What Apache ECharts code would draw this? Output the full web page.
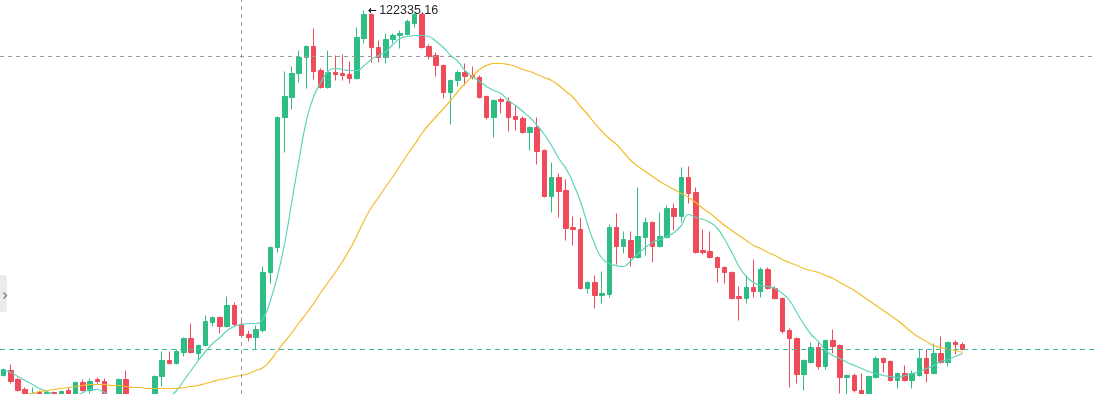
<!DOCTYPE html>
<html>
<head>
<meta charset="utf-8">
<script src="https://cdn.jsdelivr.net/npm/echarts@6/dist/echarts.min.js"></script>
<style>
html,body{margin:0;padding:0;background:#fff;}
#chart{width:1098px;height:394px;}
</style>
</head>
<body>
<div id="chart"></div>
<script>
var opens = [118685,118735,118645,118545,118445,118515,118475,118515,118475,118535,118475,118615,118535,118645,118625,118465,118405,118645,118385,118355,118335,118375,118675,118835,118805,118915,119055,118905,118985,119215,119265,119175,119385,119195,119095,119065,119135,119715,119965,121265,121465,121705,121865,121975,121735,121565,121715,121705,121695,121655,122055,122295,121965,121865,122045,122085,122095,122205,122295,121975,121885,121785,121515,121635,121715,121685,121665,121475,121265,121445,121425,121275,121255,121115,121165,120935,120475,120665,120535,120165,120145,119555,119615,119485,119495,120165,119975,120035,119865,120065,120215,119975,120065,120355,120275,120665,120515,119935,119925,119865,119765,119715,119475,119455,119565,119525,119745,119555,119455,119135,119055,118695,118815,118965,118775,119035,118985,118665,118685,118535,118455,118665,118855,118825,118635,118705,118635,118685,118855,118705,118905,118815,119015,118995];
var closes = [118745,118625,118535,118465,118505,118485,118515,118475,118525,118485,118615,118535,118625,118625,118475,118405,118645,118385,118355,118335,118375,118675,118835,118805,118925,119055,118915,118985,119225,119265,119175,119385,119195,119085,119065,119145,119715,119965,121265,121475,121705,121865,121975,121725,121565,121715,121695,121685,121655,122065,122295,121965,121865,122045,122085,122105,122225,122295,121965,121875,121785,121515,121635,121715,121675,121665,121465,121265,121435,121425,121265,121245,121115,121165,120925,120475,120665,120525,120155,120145,119555,119615,119485,119505,120165,119975,120045,119865,120075,120215,119975,120075,120355,120275,120665,120505,119915,119915,119865,119765,119715,119455,119455,119565,119525,119745,119555,119455,119125,119055,118695,118835,118965,118775,119035,118975,118665,118685,118535,118475,118675,118855,118815,118635,118705,118635,118705,118855,118705,118905,118815,119015,118995,118945];
var lows = [118675,118605,118525,118435,118425,118455,118455,118455,118455,118465,118465,118525,118505,118605,118455,118375,118395,118365,118325,118295,118315,118365,118575,118795,118795,118875,118905,118835,118975,119175,119105,119165,119175,119065,119025,118945,119115,119605,119915,120915,121345,121615,121555,121645,121555,121555,121635,121635,121605,121645,122005,121815,121815,121805,122005,121955,122085,122165,121955,121845,121675,121455,121195,121575,121585,121645,121455,121245,121065,121305,121125,121135,121105,120935,120795,120465,120315,120265,120035,119985,119545,119505,119355,119405,119465,119795,119905,119775,119855,119885,119815,119965,120055,120135,120215,120405,119905,119895,119855,119615,119605,119445,119235,119405,119465,119465,119545,119445,119105,118565,118605,118535,118805,118745,118745,118905,118505,118475,118515,118455,118435,118655,118715,118625,118555,118625,118555,118675,118615,118695,118805,118775,118895,118935];
var highs = [118755,118795,118665,118565,118565,118535,118525,118525,118535,118565,118625,118645,118655,118665,118655,118485,118655,118735,118415,118395,118405,118685,118925,118925,118945,119065,119205,118995,119285,119275,119275,119475,119415,119265,119135,119185,119775,119975,121275,121725,121775,121935,121985,122155,121755,121935,121885,121895,121825,122165,122335.16,122305,122035,122105,122105,122135,122245,122315,122305,121995,121915,121795,121645,121735,121805,121775,121685,121485,121445,121465,121465,121385,121275,121175,121265,120945,120815,120705,120645,120275,120265,119625,119685,119725,120195,120305,120125,120125,120565,120265,120225,120315,120385,120405,120765,120775,120565,120145,120125,119875,119775,119725,119575,119685,119845,119765,119765,119575,119465,119155,119065,118845,119015,119015,119045,119145,118995,118695,118705,118705,118685,118875,118865,118835,118715,118785,118735,118955,118945,119005,119075,119025,119035,119015];
var maShort = [118745,118715,118675,118635,118595,118555,118525,118495,118465,118455,118475,118515,118545,118545,118515,118475,118445,118435,118415,118395,118385,118395,118435,118475,118535,118635,118735,118835,118925,119005,119065,119135,119175,119195,119205,119205,119255,119435,119685,120015,120435,120855,121235,121475,121615,121725,121755,121745,121735,121735,121785,121845,121885,121925,121995,122055,122075,122085,122085,122075,122025,121965,121885,121825,121735,121675,121625,121575,121535,121505,121435,121385,121325,121265,121185,121095,120985,120855,120755,120605,120425,120195,119995,119855,119805,119785,119775,119835,119905,119965,120015,120045,120075,120115,120185,120295,120265,120245,120215,120155,120045,119915,119775,119675,119615,119585,119575,119555,119505,119435,119315,119195,119095,119025,118935,118885,118855,118815,118785,118755,118725,118705,118685,118675,118665,118685,118705,118725,118755,118785,118825,118845,118875,118905];
var maLong = [118385,118415,118445,118485,118505,118525,118535,118545,118555,118565,118575,118585,118595,118595,118595,118585,118585,118575,118565,118565,118555,118555,118555,118555,118555,118565,118575,118585,118605,118625,118645,118655,118675,118685,118705,118735,118765,118835,118935,119025,119115,119215,119305,119405,119515,119615,119715,119825,119945,120085,120235,120365,120465,120575,120675,120785,120895,120995,121105,121195,121275,121355,121435,121525,121605,121675,121745,121785,121805,121805,121795,121775,121745,121725,121695,121665,121635,121585,121525,121465,121375,121295,121205,121125,121055,120995,120915,120835,120775,120725,120675,120625,120585,120545,120505,120465,120415,120355,120305,120245,120185,120135,120085,120035,119985,119955,119915,119885,119845,119815,119785,119755,119735,119715,119685,119655,119615,119575,119535,119485,119435,119385,119335,119285,119235,119175,119115,119065,119025,118985,118965,118945,118935,118915];
var crosshairIndex = 33;
var crosshairPrice = 121875;
var yMin = 118500;
var yMax = 122440;
var slotCount = 152;

var categories = [];
for (var i = 0; i < slotCount; i++) { categories.push(String(i)); }
var candleData = [];
for (var j = 0; j < opens.length; j++) {
  candleData.push([opens[j], closes[j], lows[j], highs[j]]);
}
var lastClose = closes[closes.length - 1];

var UP = '#2ebd85', DOWN = '#ef4b5a';
var PRICE_LINE = '#3dbf99';
var chart = echarts.init(document.getElementById('chart'), null, {renderer: 'canvas'});
chart.setOption({
  animation: false,
  backgroundColor: '#ffffff',
  grid: {left: -1, right: 2, top: 0, bottom: 0},
  xAxis: {
    type: 'category', data: categories, boundaryGap: true,
    axisLine: {show: false}, axisTick: {show: false}, axisLabel: {show: false}, splitLine: {show: false}
  },
  yAxis: {
    type: 'value', min: yMin, max: yMax, scale: true,
    axisLine: {show: false}, axisTick: {show: false}, axisLabel: {show: false}, splitLine: {show: false}
  },
  series: [
    {
      type: 'candlestick', data: candleData, barWidth: 5,
      itemStyle: {color: UP, color0: DOWN, borderColor: UP, borderColor0: DOWN, borderWidth: 1},
      markPoint: {
        symbol: 'path://M0,4 L4,0 L4,3.2 L11,3.2 L11,4.8 L4,4.8 L4,8 Z',
        symbolSize: [8, 6], symbolOffset: [8, 0],
        itemStyle: {color: '#1e2329'},
        data: [{type: 'max', valueDim: 'highest'}],
        label: {
          show: true, position: 'right', distance: 3,
          color: '#1e2329', fontSize: 12.5, fontFamily: 'Arial, Liberation Sans, sans-serif',
          formatter: function (p) { return String(p.value); }
        }
      },
      markLine: {
        silent: true, symbol: ['none', 'none'], animation: false,
        label: {show: false},
        lineStyle: {color: '#9a9a9a', type: [4, 4], width: 1},
        data: [
          {xAxis: crosshairIndex},
          {yAxis: crosshairPrice}
        ]
      }
    },
    {
      type: 'line', data: maShort, showSymbol: false, symbol: 'none', smooth: true,
      lineStyle: {color: '#5fd3bc', width: 1.2}, z: 3
    },
    {
      type: 'line', data: maLong, showSymbol: false, symbol: 'none', smooth: true,
      lineStyle: {color: '#f5bc2a', width: 1.2}, z: 3
    },
    {
      name: 'priceLine', type: 'line', data: [], color: PRICE_LINE, z: 2,
      markLine: {
        silent: true, symbol: ['none', 'none'], animation: false,
        label: {show: false},
        lineStyle: {color: PRICE_LINE, type: [5, 4], width: 1, opacity: 1},
        data: [{yAxis: lastClose}]
      }
    }
  ],
  graphic: [
    {type: 'rect', left: 0, top: 275, shape: {width: 7, height: 37, r: [0, 3, 3, 0]}, style: {fill: '#ebebeb'}, z: 100},
    {type: 'polyline', left: 1, top: 290, shape: {points: [[0, 0], [3, 3], [0, 6]]}, style: {stroke: '#8a8a8a', lineWidth: 1.5, fill: null}, z: 101}
  ]
});
</script>
</body>
</html>
